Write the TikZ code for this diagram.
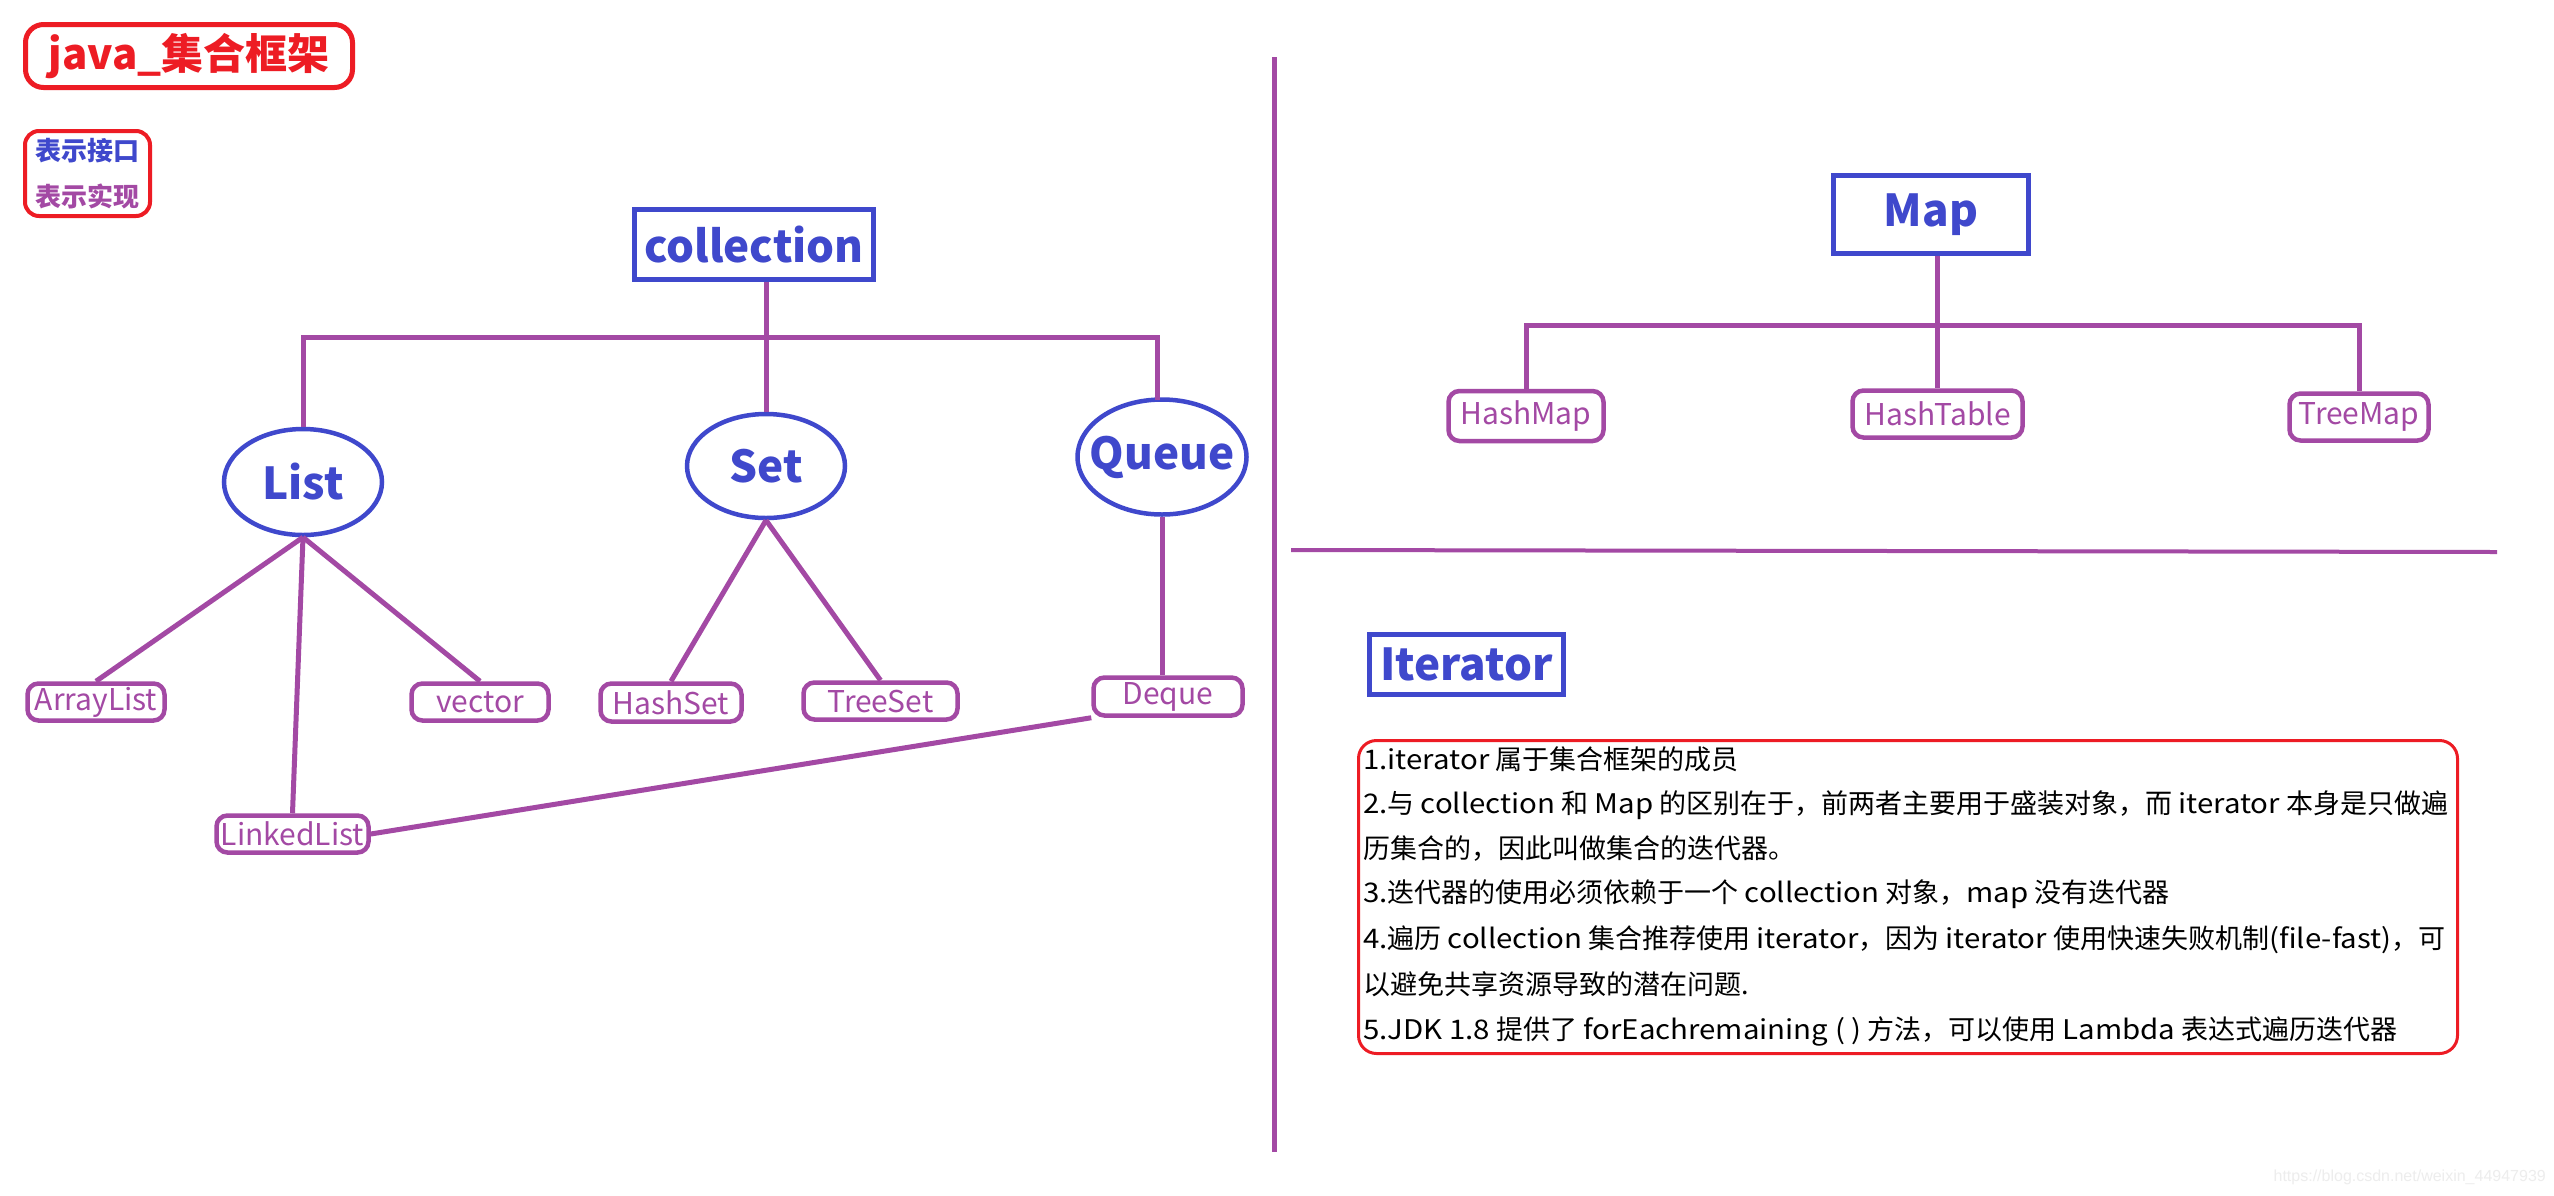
\documentclass[tikz,border=0pt]{standalone}
\usepackage{fontspec}
\setmainfont{Noto Sans CJK SC}
\newfontfamily\latf{Noto Sans CJK SC}[FakeStretch=1.09]
\newfontfamily\wmfont{Liberation Sans}
\newcommand\latn[1]{{\latf #1}}
\usetikzlibrary{shapes.geometric}
\definecolor{ind}{HTML}{3F48CC}
\definecolor{pur}{HTML}{A349A4}
\definecolor{pred}{HTML}{ED1C24}
\begin{document}
\begin{tikzpicture}[x=1pt,y=-1pt,
  iface/.style={draw=ind, line width=5pt, text=ind, font=\fontsize{44}{50}\selectfont\bfseries, inner sep=0pt},
  ifell/.style={iface, ellipse, line width=4.5pt, inner xsep=-16pt, inner ysep=0pt},
  impl/.style={draw=pur, line width=4.5pt, rounded corners=11pt, text=pur, font=\fontsize{30}{34}\selectfont, inner sep=0pt},
  link/.style={draw=pur, line width=5pt},
  ln/.style={anchor=west, inner sep=0pt, font=\fontsize{27}{30}\selectfont, text=black}]

\fill[white] (0,0) rectangle (2554,1195);
\useasboundingbox (0,0) rectangle (2554,1195);

% title and legend
\node[draw=pred, line width=5pt, rounded corners=18pt, minimum width=327pt, minimum height=63pt,
      text=pred, font=\fontsize{42}{48}\selectfont\bfseries, inner sep=0pt] (title) at (189,56) {java\_集合框架};
\node[draw=pred, line width=4pt, rounded corners=14pt, minimum width=125pt, minimum height=85pt,
      align=center, inner sep=0pt, font=\fontsize{26}{46}\selectfont\bfseries] (legend) at (87.5,173.5)
      {\textcolor{ind}{表示接口}\\\textcolor{pur}{表示实现}};

% collection tree
\node[iface, minimum width=239pt, minimum height=70pt] (collection) at (754,244.5) {collection};
\node[ifell, minimum width=158pt, minimum height=106pt] (List) at (303,482) {List};
\node[ifell, minimum width=158pt, minimum height=104pt] (Set) at (766,466) {Set};
\node[ifell, minimum width=169pt, minimum height=115pt] (Queue) at (1162,457) {Queue};

\node[impl, minimum width=137pt, minimum height=37pt] (ArrayList) at (96,702) {ArrayList};
\node[impl, minimum width=137pt, minimum height=37pt] (vector) at (480,702) {vector};
\node[impl, minimum width=152pt, minimum height=37pt] (LinkedList) at (292.5,834) {LinkedList};
\node[impl, minimum width=141pt, minimum height=38pt] (HashSet) at (671,702.5) {HashSet};
\node[impl, minimum width=154pt, minimum height=37pt] (TreeSet) at (880.5,701) {TreeSet};
\node[impl, minimum width=149pt, minimum height=38pt] (Deque) at (1168,696.5) {Deque};

\coordinate (bar) at (0,337);
\coordinate (qtop) at (1157,400);
\draw[link] (Set.north) -- (Set.north |- collection.south);
\draw[link] (List.north) -- (List.north |- bar) -- (qtop |- bar) -- (qtop);
\draw[link] (List.south) -- (ArrayList.north);
\draw[link] (List.south) -- (LinkedList.north);
\draw[link] (List.south) -- (vector.north);
\draw[link] (Set.south) -- (HashSet.north);
\draw[link] (Set.south) -- (TreeSet.north);
\draw[link] (Queue.south) -- (Queue.south |- Deque.north);
\draw[link] (LinkedList.east) -- (Deque.south west);

% dividers
\coordinate (vd1) at (1274,57);
\coordinate (vd2) at (1274,1152);
\coordinate (hd1) at (1291,550);
\coordinate (hd2) at (2497,552);
\draw[link] (vd1) -- (vd2);
\draw[link, line width=4pt] (hd1) -- (hd2);

% Map tree
\node[iface, minimum width=195pt, minimum height=78pt] (Map) at (1931,214.5) {Map};
\node[impl, minimum width=155pt, minimum height=50pt] (HashMap) at (1526,416) {HashMap};
\node[impl, minimum width=170pt, minimum height=47pt] (HashTable) at (1937.5,414) {HashTable};
\node[impl, minimum width=139pt, minimum height=47pt] (TreeMap) at (2359,417) {TreeMap};
\coordinate (mapbar) at (0,325);
\draw[link] (HashTable.north |- Map.south) -- (HashTable.north);
\draw[link] (HashMap.north) -- (HashMap.north |- mapbar) -- (TreeMap.north |- mapbar) -- (TreeMap.north);

% Iterator
\node[iface, minimum width=194pt, minimum height=60pt] (Iterator) at (1466.5,664.5) {Iterator};
\node[draw=pred, line width=3pt, rounded corners=18pt, minimum width=1099pt, minimum height=313pt] (textbox) at (1908,897) {};
\node[ln] (t1) at (1363,759) {\latn{1.iterator} 属于集合框架的成员};
\node[ln] (t2) at (1363,805) {\latn{2.}与 \latn{collection} 和 \latn{Map} 的区别在于，前两者主要用于盛装对象，而 \latn{iterator} 本身是只做遍};
\node[ln] (t3) at (1363,849) {历集合的，因此叫做集合的迭代器。};
\node[ln] (t4) at (1363,894) {\latn{3.}迭代器的使用必须依赖于一个 \latn{collection} 对象，\latn{map} 没有迭代器};
\node[ln] (t5) at (1363,940) {\latn{4.}遍历 \latn{collection} 集合推荐使用 \latn{iterator}，因为 \latn{iterator} 使用快速失败机制\latn{(file-fast)}，可};
\node[ln] (t6) at (1363,984) {以避免共享资源导致的潜在问题.};
\node[ln] (t7) at (1363,1031) {\latn{5.JDK 1.8} 提供了 \latn{forEachremaining ( )} 方法，可以使用 \latn{Lambda} 表达式遍历迭代器};

% watermark
\node[anchor=east, inner sep=0pt, text=black!7, font=\wmfont\fontsize{16}{18}\selectfont] (wm) at (2546,1177) {https://blog.csdn.net/weixin\_44947939};
\end{tikzpicture}
\end{document}
